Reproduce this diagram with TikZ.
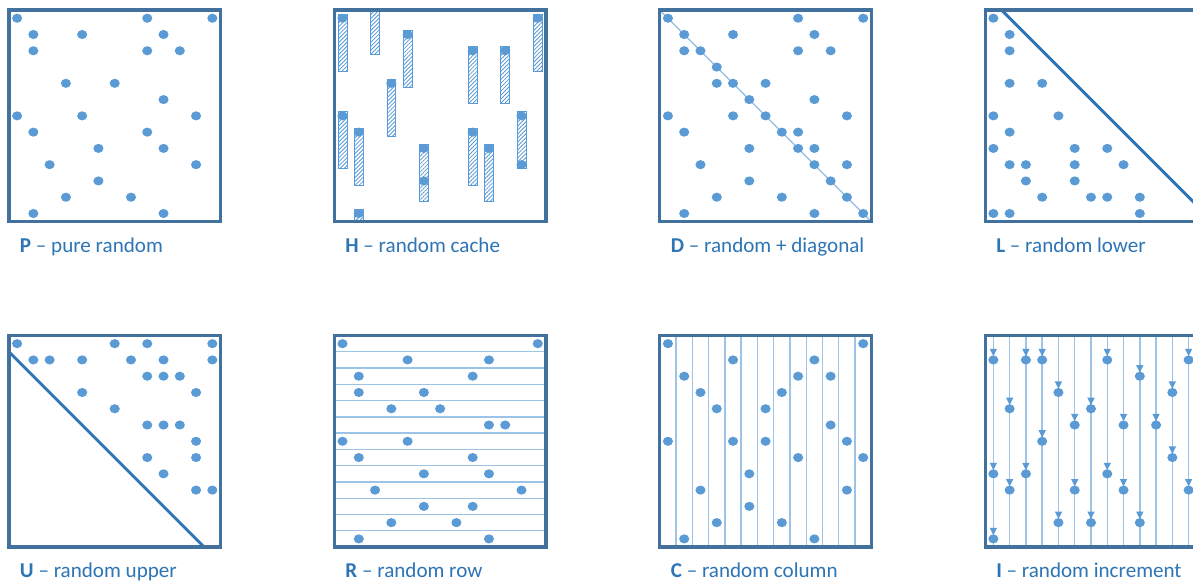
\documentclass[tikz,border=0pt]{standalone}
\usepackage{fontspec}
\setmainfont{Carlito}
\usepackage{tikz}
\usetikzlibrary{patterns.meta}
\definecolor{RPFrame}{HTML}{41719C}
\definecolor{RPDot}{HTML}{5B9BD5}
\definecolor{RPText}{HTML}{2E75B6}
\definecolor{RPThin}{HTML}{9DC3E6}
\definecolor{RPLine}{HTML}{2E75B6}
\newcommand\purepts{0/0,8/0,12/0,1/1,4/1,9/1,1/2,8/2,10/2,3/4,6/4,9/5,0/6,4/6,11/6,1/7,8/7,5/8,9/8,2/9,11/9,5/10,3/11,7/11,1/12,9/12}
\tikzset{
  elem/.style={fill=RPDot},
  matframe/.style={draw=RPFrame,line width=2.35pt},
  thinline/.style={draw=RPThin,line width=1pt},
  splitline/.style={draw=RPLine,line width=2.1pt},
  cacheline/.style={draw=RPDot,line width=.5pt,pattern={Lines[angle=45,distance=2pt,line width=.6pt]},pattern color=RPDot},
  caption/.style={anchor=base west,inner sep=0pt,text=RPText,font=\fontsize{15}{18}\selectfont}
}

\begin{document}
\begin{tikzpicture}[x=0.4067cm,y=-0.4067cm]
\path[use as bounding box] (-0.55,-0.62) rectangle (72.77,35.28);
\clip (-0.55,-0.62) rectangle (72.77,35.28);
\fill[white] (-0.55,-0.62) rectangle (72.77,35.28);

\begin{scope}
\foreach \c/\r in \purepts
  \fill[elem] (\c+.5,\r+.5) ellipse (.31 and .28);
\draw[matframe] (0,0) rectangle (13,13);
\end{scope}
\node[caption] (capP) at (0.66,14.87) {\textbf{P} – pure random};

\begin{scope}[shift={(20,0)}]
\foreach \c/\t/\b in {0/0.25/3.75,2/0/2.75,4/1.25/4.75,3/4.25/7.75,8/2.25/5.75,10/2.25/5.75,12/0.25/3.75,0/6.25/9.75,1/7.25/10.75,5/8.25/11.75,8/7.25/10.75,9/8.25/11.75,11/6.25/9.75,1/12.25/13}
  \draw[cacheline] (\c+.23,\t) rectangle (\c+.77,\b);
\foreach \c/\r in {0/0,12/0,4/1,8/2,10/2,3/4,0/6,11/6,1/7,8/7,5/8,9/8,11/9,5/10,1/12}
  \fill[elem] (\c+.5,\r+.5) ellipse (.31 and .28);
\draw[matframe] (0,0) rectangle (13,13);
\end{scope}
\node[caption] (capH) at (20.66,14.87) {\textbf{H} – random cache};

\begin{scope}[shift={(40,0)}]
\draw[thinline] (0,0) -- (13,13);
\foreach \c/\r in \purepts
  \fill[elem] (\c+.5,\r+.5) ellipse (.31 and .28);
\foreach \k in {2,...,12}
  \fill[elem] (\k+.5,\k+.5) ellipse (.31 and .28);
\draw[matframe] (0,0) rectangle (13,13);
\end{scope}
\node[caption] (capD) at (40.66,14.87) {\textbf{D} – random + diagonal};

\begin{scope}[shift={(60,0)}]
\draw[splitline] (1,0) -- (13,12);
\foreach \c/\r in {0/0,1/1,1/2,1/4,3/4,0/6,4/6,1/7,0/8,5/8,7/8,1/9,2/9,5/9,8/9,2/10,5/10,3/11,6/11,7/11,9/11,0/12,1/12,9/12}
  \fill[elem] (\c+.5,\r+.5) ellipse (.31 and .28);
\draw[matframe] (0,0) rectangle (13,13);
\end{scope}
\node[caption] (capL) at (60.66,14.87) {\textbf{L} – random lower};

\begin{scope}[shift={(0,20)}]
\draw[splitline] (0,1) -- (12,13);
\foreach \c/\r in {0/0,6/0,8/0,12/0,1/1,2/1,4/1,7/1,9/1,12/1,8/2,9/2,10/2,4/3,11/3,6/4,8/5,9/5,10/5,11/6,8/7,11/7,9/8,11/9,12/9}
  \fill[elem] (\c+.5,\r+.5) ellipse (.31 and .28);
\draw[matframe] (0,0) rectangle (13,13);
\end{scope}
\node[caption] (capU) at (0.66,34.87) {\textbf{U} – random upper};

\begin{scope}[shift={(20,20)}]
\foreach \k in {1,...,12}
  \draw[thinline] (0,\k) -- (13,\k);
\foreach \c/\r in {0/0,12/0,4/1,9/1,1/2,8/2,1/3,5/3,3/4,6/4,9/5,10/5,0/6,4/6,1/7,8/7,5/8,9/8,2/9,11/9,5/10,8/10,3/11,7/11,1/12,9/12}
  \fill[elem] (\c+.5,\r+.5) ellipse (.31 and .28);
\draw[matframe] (0,0) rectangle (13,13);
\end{scope}
\node[caption] (capR) at (20.66,34.87) {\textbf{R} – random row};

\begin{scope}[shift={(40,20)}]
\foreach \k in {1,...,12}
  \draw[thinline] (\k,0) -- (\k,13);
\foreach \c/\r in {0/0,12/0,4/1,9/1,1/2,8/2,10/2,2/3,7/3,3/4,6/4,10/5,0/6,4/6,6/6,11/6,8/7,12/7,5/8,2/9,11/9,5/10,3/11,7/11,1/12,9/12}
  \fill[elem] (\c+.5,\r+.5) ellipse (.31 and .28);
\draw[matframe] (0,0) rectangle (13,13);
\end{scope}
\node[caption] (capC) at (40.66,34.87) {\textbf{C} – random column};

\begin{scope}[shift={(60,20)}]
\foreach \k in {0,...,12}
  \draw[thinline] (\k+.5,0) -- (\k+.5,13);
\foreach \c/\r in {0/1,0/8,0/12,1/4,1/9,2/1,2/8,3/1,3/6,4/3,4/11,5/5,5/9,6/4,6/11,7/1,7/8,8/5,8/9,9/2,9/11,10/5,11/3,11/7,12/1,12/9} {
  \fill[elem] (\c+.275,\r-.18) -- (\c+.725,\r-.18) -- (\c+.5,\r+.27) -- cycle;
  \fill[elem] (\c+.5,\r+.5) ellipse (.31 and .28);
}
\draw[matframe] (0,0) rectangle (13,13);
\end{scope}
\node[caption] (capI) at (60.66,34.87) {\textbf{I} – random increment};
\end{tikzpicture}
\end{document}
